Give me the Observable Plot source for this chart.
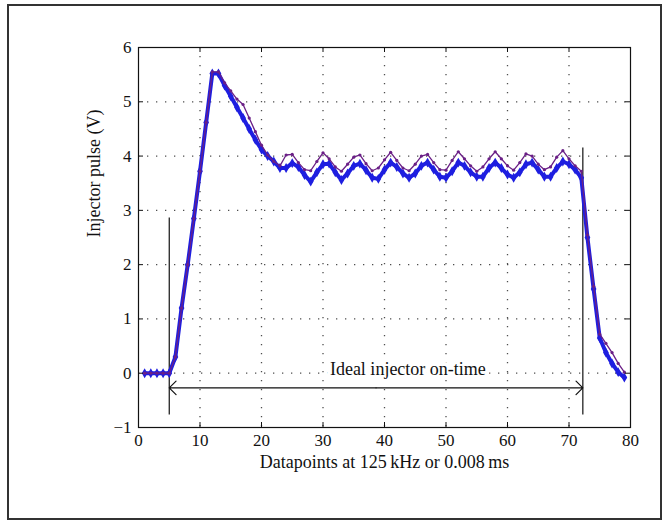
<!DOCTYPE html>
<html><head><meta charset="utf-8">
<script src="https://cdn.jsdelivr.net/npm/d3@7"></script>
<script src="https://cdn.jsdelivr.net/npm/@observablehq/plot@0.6"></script>
<style>
html,body{margin:0;padding:0;background:#fff;}
#wrap{position:relative;width:668px;height:526px;overflow:hidden;}
#border{position:absolute;left:7px;top:4px;width:651px;height:512px;border:2px solid #333;pointer-events:none;}
svg{font-family:"Liberation Serif","DejaVu Serif",serif;}
</style></head><body><div id="wrap"><div id="chart"></div><div id="border"></div></div>
<script>
// Measured traces (one value per datapoint, datapoint index 1..79)
const blueVolts = [0,0,0,0,0, 0.3,1.2,2.0,2.85,3.72, 4.62,5.52,5.52,5.3,5.1, 4.9,4.7,4.5,4.3,4.12,
  4.0,3.9,3.78,3.78,3.87, 3.8,3.65,3.53,3.7,3.85, 3.86,3.7,3.56,3.68,3.82, 3.86,3.74,3.6,3.58,3.75,
  3.88,3.8,3.68,3.6,3.68, 3.82,3.88,3.75,3.62,3.6, 3.72,3.88,3.82,3.7,3.62, 3.62,3.78,3.88,3.78,3.66,
  3.6,3.7,3.85,3.88,3.75, 3.62,3.62,3.78,3.9,3.85, 3.75,3.6,2.5,1.55,0.65, 0.38,0.18,0.02,-0.08];
const purpleVolts = [0,0,0,0,0, 0.3,1.2,2.0,2.85,3.72, 4.62,5.55,5.55,5.35,5.2, 5.05,4.95,4.7,4.45,4.2,
  4.02,3.9,3.82,4.02,4.03, 3.88,3.75,3.73,3.9,4.06, 3.95,3.8,3.72,3.85,3.98, 4.02,3.86,3.73,3.78,3.93,
  4.07,3.92,3.78,3.73,3.85, 4.0,4.03,3.88,3.75,3.74, 3.92,4.08,3.95,3.82,3.72, 3.8,3.95,4.08,3.95,3.82,
  3.74,3.88,4.04,4.0,3.85, 3.75,3.8,3.98,4.1,3.95, 3.82,3.72,2.55,1.6,0.72, 0.55,0.38,0.18,0.02];
const xTicks = [0,10,20,30,40,50,60,70,80];
const yTicks = [-1,0,1,2,3,4,5,6];
const xTitle = "Datapoints at 125\u2009kHz or 0.008\u2009ms";
const yTitle = "Injector pulse (V)";
// Annotation: ideal on-time markers
const onTimeX = [5, 72.25];
const onTimeTop = [2.86, 4.15];
const onTimeBottom = -0.77;
const arrowY = -0.27;
const noteText = "Ideal injector on-time";
const noteX = 43.8, noteY = 0.07;

const blue = blueVolts.map((v, i) => ({x: i + 1, y: v}));
const purple = purpleVolts.map((v, i) => ({x: i + 1, y: v}));
const markers = onTimeX.map((x, i) => ({x, y1: onTimeBottom, y2: onTimeTop[i]}));
const mid = (onTimeX[0] + onTimeX[1]) / 2;
const arrows = [{x1: mid, x2: onTimeX[0]}, {x1: mid, x2: onTimeX[1]}];

const W = 668, H = 526, mL = 138, mR = 38, mT = 47, mB = 99;
const fw = W - mL - mR, fh = H - mT - mB;
const tick = 5;
const BLUE = "#1e1ee0", PURPLE = "#6a1f86";
const fs = 17, ts = 18;

const chart = Plot.plot({
  width: W, height: H,
  marginLeft: mL, marginRight: mR, marginTop: mT, marginBottom: mB,
  style: {fontFamily: '"Liberation Serif", serif', fontSize: fs + "px", background: "white", color: "#111"},
  x: {domain: [0, 80], ticks: xTicks},
  y: {domain: [-1, 6], ticks: yTicks},
  marks: [
    Plot.gridX(xTicks.slice(1, -1), {stroke: "#222", strokeOpacity: 0.8, strokeWidth: 1.3, strokeDasharray: "1.3,7.7"}),
    Plot.gridY(yTicks.slice(1, -1), {stroke: "#222", strokeOpacity: 0.8, strokeWidth: 1.3, strokeDasharray: "1.3,7.7"}),
    Plot.text([noteText], {x: noteX, y: noteY, fontSize: ts, fill: "#111", stroke: "white", strokeWidth: 8, textAnchor: "middle"}),
    Plot.ruleX(markers, {x: "x", y1: "y1", y2: "y2", stroke: "#111", strokeWidth: 1.2}),
    Plot.arrow(arrows, {x1: "x1", x2: "x2", y1: arrowY, y2: arrowY, stroke: "#111", strokeWidth: 1.2, headLength: 12, headAngle: 90}),
    Plot.line(blue, {x: "x", y: "y", stroke: BLUE, strokeWidth: 4}),
    Plot.dot(blue, {x: "x", y: "y", r: 3, fill: BLUE, symbol: "diamond"}),
    Plot.line(purple, {x: "x", y: "y", stroke: PURPLE, strokeWidth: 1.3}),
    Plot.dot(purple, {x: "x", y: "y", r: 1.6, fill: PURPLE}),
    Plot.frame({stroke: "#111", strokeWidth: 1.2}),
    Plot.tickX(xTicks, {x: d => d, insetTop: fh - tick, stroke: "#111"}),
    Plot.tickX(xTicks, {x: d => d, insetBottom: fh - tick, stroke: "#111"}),
    Plot.tickY(yTicks, {y: d => d, insetRight: fw - tick, stroke: "#111"}),
    Plot.tickY(yTicks, {y: d => d, insetLeft: fw - tick, stroke: "#111"}),
    Plot.axisX(xTicks, {anchor: "bottom", tickSize: 0, tickPadding: 6, label: null, fontSize: fs, tickFormat: "d"}),
    Plot.axisY(yTicks, {anchor: "left", tickSize: 0, tickPadding: 7, label: null, fontSize: fs, tickFormat: "d"}),
    Plot.text([xTitle], {frameAnchor: "bottom", dy: 40, fontSize: ts, fill: "#111"}),
    Plot.text([yTitle], {frameAnchor: "left", dx: -44, rotate: -90, fontSize: ts, fill: "#111"})
  ]
});
document.getElementById("chart").appendChild(chart);
</script></body></html>
